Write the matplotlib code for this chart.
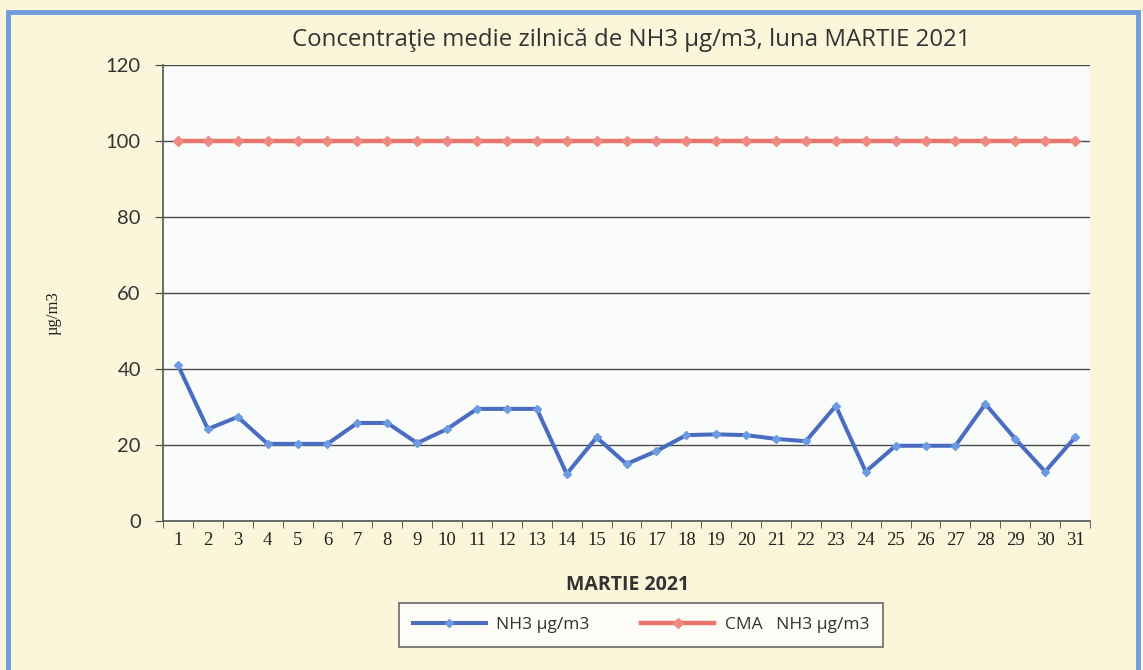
import matplotlib
matplotlib.use("Agg")
import matplotlib.pyplot as plt
from matplotlib.patches import Rectangle
from matplotlib.lines import Line2D

days = list(range(1, 32))
day_labels = [str(d) for d in days]
nh3 = [41.0, 24.2, 27.4, 20.3, 20.3, 20.3, 25.8, 25.8, 20.5, 24.2,
       29.5, 29.5, 29.5, 12.4, 22.0, 15.0, 18.4, 22.6, 22.8, 22.6,
       21.6, 21.0, 30.3, 13.0, 19.8, 19.8, 19.8, 30.8, 21.6, 13.0, 22.0]
cma = [100] * 31
yticks = [0, 20, 40, 60, 80, 100, 120]

fig = plt.figure(figsize=(11.43, 6.70), dpi=100)
fig.patch.set_facecolor("#FBF5DA")

# blue border
fig.patches.append(Rectangle((8/1143, -0.05), (1138-8)/1143, 1.05 - 12/670,
                             transform=fig.transFigure, fill=False,
                             edgecolor="#6F9BDF", linewidth=3.5, zorder=0))

ax = fig.add_axes([163/1143, (670-521)/670, (1090-163)/1143, (521-65)/670])
ax.set_facecolor("#FAFCFC")

ax.plot(days, cma, color="#E8746C", linewidth=3.2, marker="D", markersize=5,
        markerfacecolor="#EE8A84", markeredgecolor="#EE8A84", zorder=3)
ax.plot(days, nh3, color="#4A6DC2", linewidth=2.9, marker="D", markersize=4.5,
        markerfacecolor="#6C9BE0", markeredgecolor="#6C9BE0", zorder=4)

ax.set_xlim(0.5, 31.5)
ax.set_ylim(0, 120)
ax.set_yticks(yticks)
ax.set_yticklabels([str(v) for v in yticks], fontsize=14.5, family="Lato", color="#333333")
ax.set_xticks(days)
ax.set_xticklabels(day_labels, fontsize=13.5, family="Liberation Serif", color="#222222")
ax.set_xticks([d + 0.5 for d in [0] + days], minor=True)
ax.tick_params(axis="x", which="major", length=0, pad=8)
ax.tick_params(axis="x", which="minor", length=5, direction="out", color="#444444")
ax.tick_params(axis="y", length=6, direction="out", color="#444444", pad=10)

ax.grid(axis="y", color="#4A4A4A", linewidth=1.0)
ax.set_axisbelow(True)
for s in ["top", "right"]:
    ax.spines[s].set_visible(False)
for s in ["left", "bottom"]:
    ax.spines[s].set_color("#555555")
    ax.spines[s].set_linewidth(1.2)

fig.text(631/1143, 1 - 40/670, "Concentraţie medie zilnică de NH3 µg/m3, luna MARTIE 2021",
         ha="center", va="center", fontsize=17.3, family="Open Sans", color="#333333")
fig.text(54/1143, 1 - 313/670, "µg/m3", rotation=90, ha="center", va="center",
         fontsize=12, family="Liberation Serif", color="#222222")
fig.text(628/1143, 1 - 585/670, "MARTIE 2021", ha="center", va="center",
         fontsize=14, fontweight="bold", family="Open Sans", color="#333333")

handles = [
    Line2D([], [], color="#4A6DC2", linewidth=2.9, marker="D", markersize=4.5,
           markerfacecolor="#6C9BE0", markeredgecolor="#6C9BE0"),
    Line2D([], [], color="#E8746C", linewidth=3.2, marker="D", markersize=5,
           markerfacecolor="#EE8A84", markeredgecolor="#EE8A84"),
]
leg = fig.legend(handles, ["NH3 µg/m3", "CMA   NH3 µg/m3"], loc="center",
                 bbox_to_anchor=(641/1143, 1 - 625/670), ncol=2, frameon=True,
                 fancybox=False, edgecolor="#444444", facecolor="white",
                 prop={"family": "Open Sans", "size": 12.5}, handlelength=4.2,
                 columnspacing=3.0, borderpad=0.8, handletextpad=0.6)
leg.get_frame().set_linewidth(1.2)
for t in leg.get_texts():
    t.set_color("#333333")

fig.savefig("out.png", dpi=100, facecolor=fig.get_facecolor())
